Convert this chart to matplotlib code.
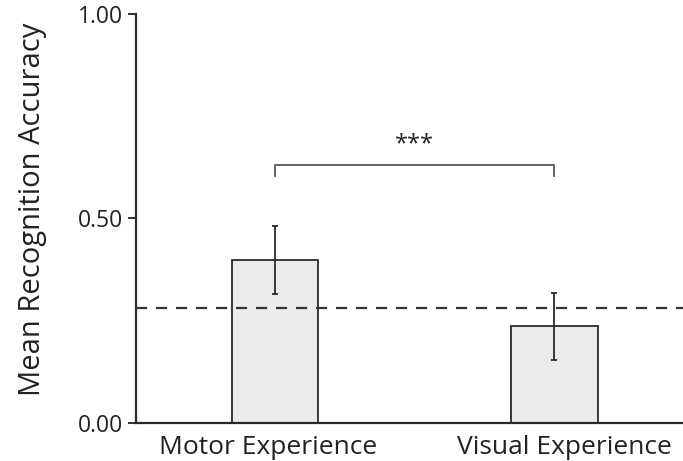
import matplotlib
matplotlib.use("Agg")
import matplotlib.pyplot as plt
import matplotlib.transforms as mtransforms
import numpy as np

plt.rcParams['font.family'] = ['Open Sans', 'DejaVu Sans']

categories = ['Motor Experience', 'Visual Experience']
means = [0.397, 0.235]
errors = [0.083, 0.081]
chance = 0.281
sig_label = '***'

fig = plt.figure(figsize=(6.83, 4.61), dpi=100)
ax = fig.add_axes([0.199, 0.0835, 0.801, 0.887])

x = np.arange(len(categories))
ax.bar(x, means, width=0.31, color='#e9ebec', edgecolor='#2a2a2a', linewidth=1.3, zorder=2)
ax.errorbar(x, means, yerr=errors, fmt='none', ecolor='#2a2a2a', elinewidth=1.3,
            capsize=2.5, capthick=1.3, zorder=3)

ax.axhline(chance, color='#333333', linestyle=(0, (5, 4)), linewidth=1.6, zorder=4)

# significance bracket
y_br, y_tick = 0.630, 0.603
ax.plot([x[0], x[0], x[1], x[1]], [y_tick, y_br, y_br, y_tick], color='#555555', linewidth=1.3)
ax.text((x[0] + x[1]) / 2, 0.68, sig_label, ha='center', va='center', fontsize=17, color='#222222')

ax.set_xlim(-0.498, 1.46)
ax.set_ylim(0, 1.0)
ax.set_yticks([0, 0.5, 1.0])
ax.set_yticklabels(['0.00', '0.50', '1.00'])
ax.set_xticks(x)
ax.set_xticklabels(categories)
ax.tick_params(axis='x', length=0, labelsize=19, pad=9, colors='#222222')
ax.tick_params(axis='y', length=6, width=1.3, labelsize=16.5, pad=3, colors='#222222')
ax.set_ylabel('Mean Recognition Accuracy', fontsize=21, color='#222222')
ax.yaxis.set_label_coords(-0.163, 0.521)

# labels sit slightly off the bar centres in the original
for lab, dx in zip(ax.get_xticklabels(), [-7, 10]):
    lab.set_transform(lab.get_transform() + mtransforms.ScaledTranslation(dx / 100, 0, fig.dpi_scale_trans))

for s in ['top', 'right']:
    ax.spines[s].set_visible(False)
for s in ['left', 'bottom']:
    ax.spines[s].set_color('#2a2a2a')
    ax.spines[s].set_linewidth(1.6)

fig.savefig('out.png', dpi=100)
